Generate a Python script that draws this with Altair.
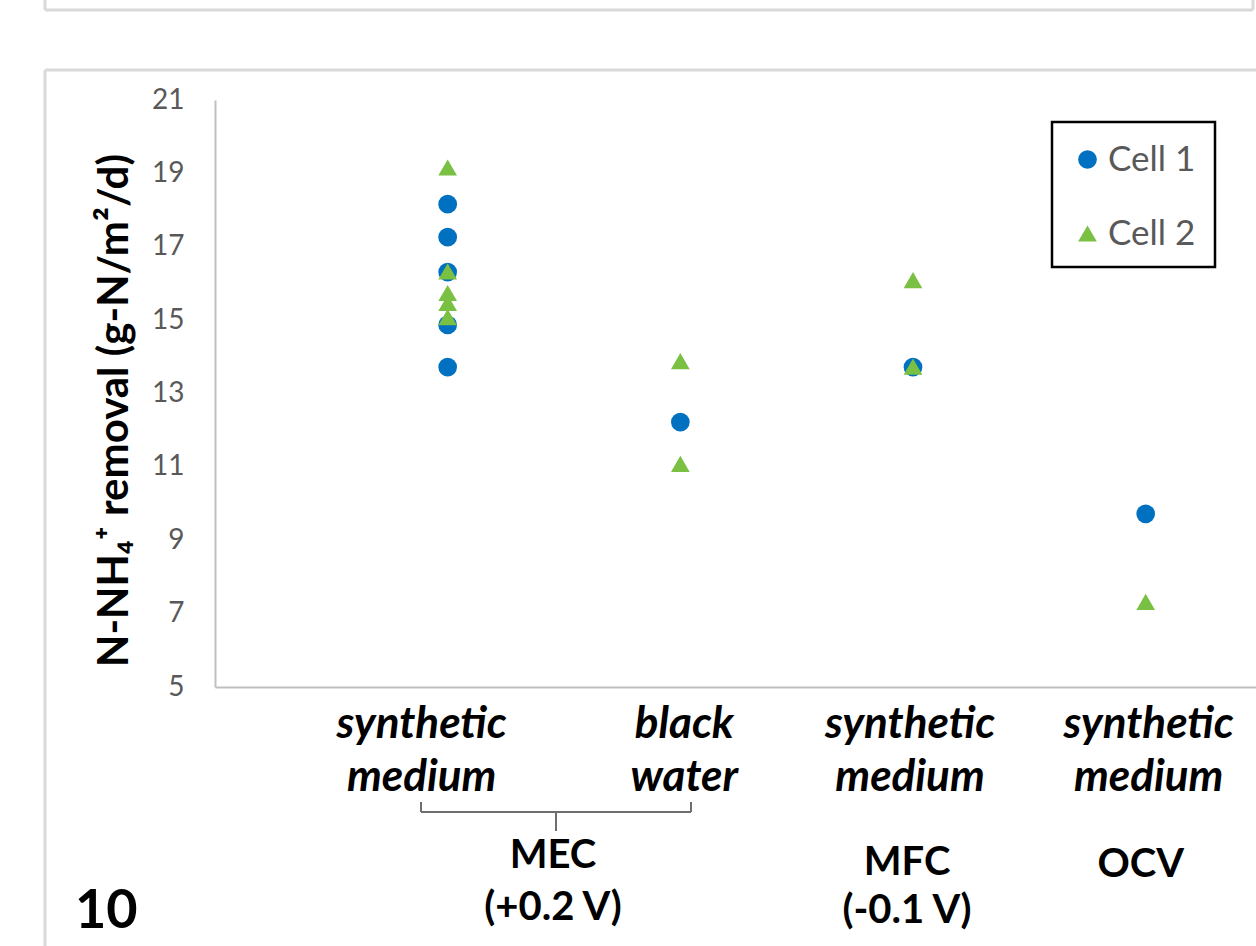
import altair as alt
import pandas as pd

# ---- data ----
cell1_x = [1, 1, 1, 1, 1, 2, 3, 4]
cell1_y = [18.16, 17.26, 16.31, 14.87, 13.72, 12.22, 13.72, 9.72]
cell2_x = [1, 1, 1, 1, 1, 2, 2, 3, 3, 4]
cell2_y = [19.16, 16.33, 15.74, 15.47, 15.08, 13.88, 11.08, 16.09, 13.73, 7.32]

series_names = ["Cell 1", "Cell 2"]
y_ticks = [5, 7, 9, 11, 13, 15, 17, 19, 21]

cat_labels = ["synthetic\nmedium", "black\nwater", "synthetic\nmedium", "synthetic\nmedium"]
cat_pos = [1, 2, 3, 4]
mec_label = "MEC\n(+0.2 V)"
mfc_label = "MFC\n(-0.1 V)"
ocv_label = "OCV"
panel_label = "10"
y_title = "N-NH₄⁺ removal (g-N/m²/d)"

# ---- layout constants ----
LEFT, TOP = 215, 100
W, H = 1256 - LEFT, 587
UNIT = 232.67  # px per x unit
XMAX = W / UNIT
FONT = "Lato"
BLUE = "#0070C0"
GREEN = "#7AC043"

points = pd.DataFrame({
    "x": cell1_x + cell2_x,
    "y": cell1_y + cell2_y,
    "series": [series_names[0]] * len(cell1_x) + [series_names[1]] * len(cell2_x),
})

xscale = alt.Scale(domain=[0, XMAX], nice=False, zero=False)

legend = alt.Legend(title=None, orient="none", legendX=837, legendY=24,
                    padding=18, labelFont=FONT, labelFontSize=35,
                    labelColor="#595959", symbolSize=350,
                    symbolStrokeWidth=0, rowPadding=38, labelOffset=3)

pts = alt.Chart(points).mark_point(filled=True, opacity=1, size=350, strokeWidth=0).encode(
    x=alt.X("x:Q", scale=xscale,
            axis=alt.Axis(labels=False, ticks=False, grid=False, title=None,
                          domainColor="#bfbfbf", domainWidth=2)),
    y=alt.Y("y:Q", scale=alt.Scale(domain=[5, 21], nice=False, zero=False),
            axis=alt.Axis(values=y_ticks, ticks=False, grid=False, domainColor="#bfbfbf",
                          domainWidth=2, labelFont=FONT, labelFontSize=28,
                          labelColor="#595959", labelPadding=31,
                          title=y_title, titleFont=FONT, titleFontSize=42,
                          titleFontWeight="bold", titleColor="black",
                          titleAngle=-90, titleAlign="center",
                          titleBaseline="alphabetic", titleX=-88, titleY=310)),
    color=alt.Color("series:N", scale=alt.Scale(domain=series_names, range=[BLUE, GREEN]),
                    legend=legend),
    shape=alt.Shape("series:N", scale=alt.Scale(domain=series_names,
                                                range=["circle", "triangle-up"]),
                    legend=legend),
    order=alt.Order("series:N"),
)

# legend frame
legend_box = alt.Chart().mark_rect(filled=False, stroke="black", strokeWidth=2.5).encode(
    x=alt.value(1052 - LEFT), x2=alt.value(1215 - LEFT),
    y=alt.value(122 - TOP), y2=alt.value(267 - TOP),
)

# category labels under the axis
cat_offsets_px = [-26, 4, -3, 3]
cats = pd.DataFrame({
    "label": cat_labels,
    "x": [p + o / UNIT for p, o in zip(cat_pos, cat_offsets_px)],
})
cat_text = alt.Chart(cats).mark_text(
    font=FONT, fontSize=44, fontWeight="bold", fontStyle="italic", color="black",
    lineBreak="\n", lineHeight=53, align="center", baseline="alphabetic",
).encode(x=alt.X("x:Q", scale=xscale), y=alt.value(638), text="label:N")


def group_text(label, xpos, ypix, lh):
    df = pd.DataFrame({"label": [label], "x": [xpos]})
    return alt.Chart(df).mark_text(
        font=FONT, fontSize=40, fontWeight="bold", color="black",
        lineBreak="\n", lineHeight=lh, align="center", baseline="alphabetic",
    ).encode(x=alt.X("x:Q", scale=xscale), y=alt.value(ypix), text="label:N")


mec = group_text(mec_label, 1.5 - 11 / UNIT, 768, 52)
mfc = group_text(mfc_label, 3 - 6 / UNIT, 775, 48)
ocv = group_text(ocv_label, 4 - 5 / UNIT, 777, 48)

panel = alt.Chart(pd.DataFrame({"t": [panel_label]})).mark_text(
    font=FONT, fontSize=54, fontWeight="bold", color="black", align="left",
    baseline="alphabetic",
).encode(x=alt.value(75 - LEFT), y=alt.value(928 - TOP), text="t:N")

# bracket under the MEC categories
BR_L, BR_R, BR_C = 421 - LEFT, 691 - LEFT, 556 - LEFT
BR_Y = 812 - TOP
bstyle = dict(color="#6e6e6e", strokeWidth=2)
br_h = alt.Chart().mark_rule(**bstyle).encode(x=alt.value(BR_L), x2=alt.value(BR_R), y=alt.value(BR_Y))
br_l = alt.Chart().mark_rule(**bstyle).encode(x=alt.value(BR_L), y=alt.value(BR_Y - 10), y2=alt.value(BR_Y))
br_r = alt.Chart().mark_rule(**bstyle).encode(x=alt.value(BR_R), y=alt.value(BR_Y - 10), y2=alt.value(BR_Y))
br_c = alt.Chart().mark_rule(**bstyle).encode(x=alt.value(BR_C), y=alt.value(BR_Y), y2=alt.value(BR_Y + 19))

# surrounding frames (cropped Excel chart borders)
fstyle = dict(color="#d9d9d9", strokeWidth=3)
fr_top = alt.Chart().mark_rule(**fstyle).encode(x=alt.value(45 - LEFT), x2=alt.value(1300), y=alt.value(70 - TOP))
fr_left = alt.Chart().mark_rule(**fstyle).encode(x=alt.value(45 - LEFT), y=alt.value(70 - TOP), y2=alt.value(1000))
up_bottom = alt.Chart().mark_rule(**fstyle).encode(x=alt.value(45 - LEFT), x2=alt.value(1253 - LEFT), y=alt.value(10 - TOP))
up_left = alt.Chart().mark_rule(**fstyle).encode(x=alt.value(45 - LEFT), y=alt.value(-200), y2=alt.value(10 - TOP))
up_right = alt.Chart().mark_rule(**fstyle).encode(x=alt.value(1253 - LEFT), y=alt.value(-200), y2=alt.value(10 - TOP))

chart = alt.layer(
    fr_top, fr_left, up_bottom, up_left, up_right,
    br_h, br_l, br_r, br_c,
    cat_text, mec, mfc, ocv, panel,
    legend_box, pts,
).properties(
    width=W, height=H,
    autosize=alt.AutoSizeParams(type="none"),
    padding={"left": LEFT, "top": TOP, "right": 0, "bottom": 946 - TOP - H},
    background="white",
).configure_view(strokeWidth=0)

chart.save("out.html", embed_options={"renderer": "svg", "actions": False})
